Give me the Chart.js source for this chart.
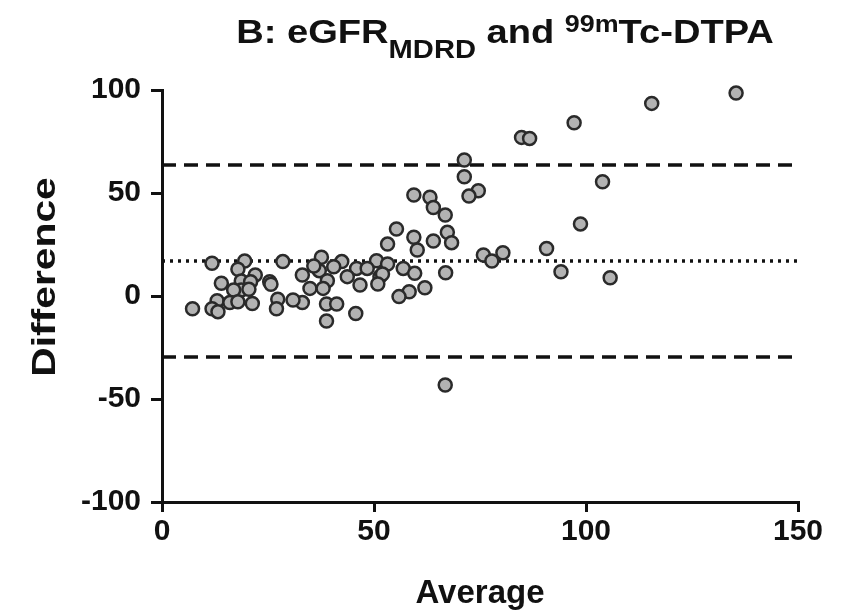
<!DOCTYPE html>
<html lang="en">
<head>
    <meta charset="UTF-8">
    <title>B: eGFR MDRD and 99mTc-DTPA</title>
    <script src="https://cdn.jsdelivr.net/npm/chart.js"></script>
    <style>
        html, body { margin: 0; padding: 0; background: #fff; }
        #chart { display: block; }
    </style>
</head>
<body>
    <canvas id="chart" width="854" height="615"></canvas>

    <script>
        // Bland-Altman data: average of the two methods vs their difference
        const averages = [
            135.4, 115.5, 97.2, 84.8, 86.7, 71.3, 71.3, 74.6, 72.4, 103.9,
            98.7, 90.7, 75.8, 77.8, 80.4, 94.1, 105.7, 66.8, 59.4, 63.2,
            64.0, 66.8, 55.3, 59.4, 64.0, 67.3, 68.3, 60.2, 53.2, 37.6,
            42.4, 50.6, 53.2, 56.9, 59.6, 66.9, 45.9, 48.4, 37.1, 35.8,
            40.5, 43.7, 39.0, 46.7, 51.4, 52.0, 50.9, 62.0, 58.3, 55.9,
            34.9, 38.0, 33.1, 33.1, 38.8, 41.2, 45.7, 38.8, 11.8, 19.5,
            28.5, 17.9, 22.0, 14.0, 18.7, 20.9, 25.4, 25.7, 18.7, 20.5,
            16.9, 13.0, 16.0, 17.9, 21.3, 27.3, 30.9, 7.2, 11.8, 13.2,
            27.0
        ];
        const differences = [
            98.5, 93.5, 84.1, 77.0, 76.5, 66.0, 57.9, 51.1, 48.5, 55.5,
            35.0, 23.1, 19.9, 17.0, 21.0, 11.8, 8.9, -43.2, 49.0, 47.9,
            43.0, 39.3, 32.5, 28.5, 26.7, 30.9, 25.9, 22.3, 25.2, 18.8,
            16.7, 17.1, 15.5, 13.4, 11.0, 11.3, 13.4, 13.4, 12.3, 14.6,
            14.2, 9.4, 7.4, 5.3, 9.4, 10.7, 5.8, 4.0, 2.1, -0.3,
            3.7, 3.7, 10.2, -3.2, -3.9, -3.9, -8.5, -12.1, 15.9, 17.0,
            16.7, 13.0, 10.2, 6.2, 7.3, 6.9, 6.9, 5.7, 2.9, 3.3,
            2.9, -2.3, -3.2, -2.8, -3.6, -1.6, -1.9, -6.2, -6.2, -7.6,
            -6.2
        ];

        // bias and limits of agreement
        const meanDifference = 17.0;
        const upperLimit = 63.6;
        const lowerLimit = -29.6;

        const xTicks = [0, 50, 100, 150];
        const yTicks = [-100, -50, 0, 50, 100];

        const titleParts = [
            ['B: eGFR', 'main'],
            ['MDRD', 'sub'],
            [' and ', 'main'],
            ['99m', 'sup'],
            ['Tc-DTPA', 'main']
        ];
        const xTitle = 'Average';
        const yTitle = 'Difference';

        const family = '"Liberation Sans", Arial, sans-serif';
        const ink = '#111';

        // title with sub/superscripts and the two axis titles
        const textPlugin = {
            id: 'texts',
            afterDraw(chart) {
                const ctx = chart.ctx;
                const area = chart.chartArea;
                const midX = (area.left + area.right) / 2;
                const midY = (area.top + area.bottom) / 2;

                const fonts = {
                    main: 'bold 34px ' + family,
                    sub: 'bold 26px ' + family,
                    sup: 'bold 24px ' + family
                };
                const shift = { main: 0, sub: 15, sup: -11 };
                const sx = 1.12;

                ctx.save();
                ctx.fillStyle = ink;
                ctx.textAlign = 'left';
                ctx.textBaseline = 'alphabetic';
                let total = 0;
                titleParts.forEach(([t, k]) => {
                    ctx.font = fonts[k];
                    total += ctx.measureText(t).width;
                });
                ctx.translate(midX + 25 - total * sx / 2, 43);
                ctx.scale(sx, 1);
                let x = 0;
                titleParts.forEach(([t, k]) => {
                    ctx.font = fonts[k];
                    ctx.fillText(t, x, shift[k]);
                    x += ctx.measureText(t).width;
                });
                ctx.restore();

                ctx.save();
                ctx.fillStyle = ink;
                ctx.textAlign = 'center';
                ctx.textBaseline = 'alphabetic';
                ctx.font = 'bold 33px ' + family;
                ctx.fillText(xTitle, midX, area.bottom + 101);
                ctx.translate(55, midY - 19);
                ctx.rotate(-Math.PI / 2);
                ctx.scale(1.2, 1);
                ctx.font = 'bold 34px ' + family;
                ctx.fillText(yTitle, 0, 0);
                ctx.restore();
            }
        };

        const tickFont = { family: family, size: 30, weight: 'bold' };

        new Chart(document.getElementById('chart'), {
            type: 'scatter',
            data: {
                datasets: [
                    {
                        label: 'Difference',
                        data: averages.map((a, i) => ({ x: a, y: differences[i] })),
                        backgroundColor: '#b3b3b3',
                        borderColor: '#2a2a2a',
                        borderWidth: 2.5,
                        pointRadius: 6.5,
                        clip: false,
                        order: 1
                    },
                    {
                        type: 'line',
                        label: 'Bias',
                        data: [{ x: 0, y: meanDifference }, { x: 150, y: meanDifference }],
                        borderColor: ink,
                        borderWidth: 3.5,
                        borderDash: [3, 5],
                        pointRadius: 0,
                        order: 2
                    },
                    {
                        type: 'line',
                        label: 'Upper limit',
                        data: [{ x: 0, y: upperLimit }, { x: 150, y: upperLimit }],
                        borderColor: ink,
                        borderWidth: 3.5,
                        borderDash: [14, 8],
                        pointRadius: 0,
                        order: 2
                    },
                    {
                        type: 'line',
                        label: 'Lower limit',
                        data: [{ x: 0, y: lowerLimit }, { x: 150, y: lowerLimit }],
                        borderColor: ink,
                        borderWidth: 3.5,
                        borderDash: [14, 8],
                        pointRadius: 0,
                        order: 2
                    }
                ]
            },
            options: {
                responsive: false,
                animation: false,
                layout: { padding: { top: 90, right: 56, left: 0, bottom: 0 } },
                plugins: {
                    legend: { display: false },
                    tooltip: { enabled: false }
                },
                scales: {
                    x: {
                        type: 'linear',
                        min: 0,
                        max: 150,
                        afterBuildTicks: (s) => { s.ticks = xTicks.map(v => ({ value: v })); },
                        afterFit: (s) => { s.height = 113; },
                        grid: { drawOnChartArea: false, drawTicks: true, tickLength: 10, color: ink, lineWidth: 3 },
                        border: { color: ink, width: 3 },
                        ticks: { color: ink, font: tickFont, padding: 2, maxRotation: 0 }
                    },
                    y: {
                        type: 'linear',
                        min: -100,
                        max: 100,
                        afterBuildTicks: (s) => { s.ticks = yTicks.map(v => ({ value: v })); },
                        afterFit: (s) => { s.width = 162; },
                        grid: { drawOnChartArea: false, drawTicks: true, tickLength: 11, color: ink, lineWidth: 3 },
                        border: { color: ink, width: 3 },
                        ticks: { color: ink, font: tickFont, padding: 10 }
                    }
                }
            },
            plugins: [textPlugin]
        });
    </script>
</body>
</html>
